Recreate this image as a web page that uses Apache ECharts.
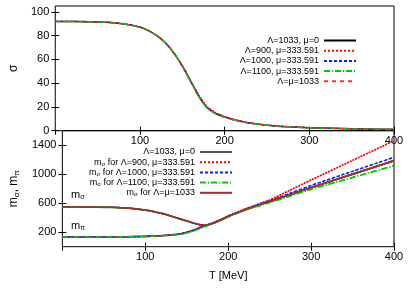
<!DOCTYPE html>
<html><head><meta charset="utf-8">
<script src="https://cdn.jsdelivr.net/npm/echarts@6/dist/echarts.min.js"></script>
<style>html,body{margin:0;padding:0;background:#fff}#c{width:415px;height:291px}</style>
</head><body><div id="c"></div>
<script>
// ---- data ----
const T = [0,20,40,60,80,100,110,120,130,140,150,160,170,175,180,190,200,210,225,250,275,300,350,400];

// top panel: sigma(T)
const sigma_1033_mu0   = [92,92,91.8,91.3,90,87.2,84.3,80,74,65.5,54.5,41.5,28.5,23.2,19,14.2,11.5,9.4,7.0,4.6,3.3,2.5,1.6,1.0];
const sigma_900        = [92,92,91.8,91.3,90,87.2,84.3,80,74,65.6,54.8,42,29.5,24.3,20,15,12,9.8,7.3,4.8,3.4,2.6,1.7,1.1];
const sigma_1000       = [92,92,91.8,91.3,90,87.2,84.3,80,74,65.5,54.6,41.7,28.8,23.5,19.4,14.5,11.7,9.5,7.1,4.7,3.3,2.5,1.6,1.0];
const sigma_1100       = [92,92,91.8,91.3,90,87.2,84.3,80,74,65.4,54.3,41,28,22.7,18.6,13.9,11.3,9.2,6.9,4.5,3.2,2.4,1.5,0.9];
const sigma_1033_1033  = [92,92,91.8,91.3,90,87.2,84.3,80,74,65.5,54.5,41.5,28.5,23.2,19,14.2,11.5,9.4,7.0,4.6,3.3,2.5,1.6,1.0];

// bottom panel: m_sigma(T)
const msig_1033_mu0  = [548,548,547,543,532,505,485,458,425,390,355,320,296,298,318,365,418,465,530,624,718,815,1000,1186];
const msig_900       = [548,548,547,543,532,505,485,458,425,390,355,320,297,300,322,370,424,472,540,645,782,920,1190,1462];
const msig_1000      = [548,548,547,543,532,505,485,458,425,390,355,320,296,298,318,366,420,468,533,632,738,845,1040,1233];
const msig_1100      = [548,548,547,543,532,505,485,458,425,390,355,319,295,296,315,360,412,458,522,608,700,792,955,1117];
const msig_1033_1033 = [548,548,547,543,532,505,485,458,425,390,355,320,296,298,318,365,418,465,530,624,718,815,1000,1186];

// bottom panel: m_pi(T)
const mpi_1033_mu0  = [135,135,135,135,137,142,146,152,160,172,195,232,280,300,316,363,417,465,530,624,718,815,1000,1186];
const mpi_900       = [135,135,135,136,138,144,148,155,164,178,203,242,288,306,322,369,423,471,540,645,782,920,1190,1462];
const mpi_1000      = [135,135,135,135,137,142,146,152,161,174,198,236,283,302,318,365,419,467,533,632,738,845,1040,1233];
const mpi_1100      = [135,135,135,135,137,141,145,150,157,168,188,222,268,290,310,358,411,457,522,608,700,792,955,1117];
const mpi_1033_1033 = [135,135,135,135,137,142,146,152,160,172,195,232,280,300,316,363,417,465,530,624,718,815,1000,1186];

// labels
const topNames = ['Λ=1033, μ=0','Λ=900, μ=333.591','Λ=1000, μ=333.591','Λ=1100, μ=333.591','Λ=μ=1033'];
const botKeys = ['b0','b1','b2','b3','b4'];
const botLabels = {
  b0:'Λ=1033, μ=0',
  b1:'{m|m}{s|σ}{t| for Λ=900, μ=333.591}',
  b2:'{m|m}{s|σ}{t| for Λ=1000, μ=333.591}',
  b3:'{m|m}{s|σ}{t| for Λ=1100, μ=333.591}',
  b4:'{m|m}{s|σ}{t| for Λ=μ=1033}'
};
const yTopTicks = [0,20,40,60,80,100];
const yBotTicks = [200,600,1000,1400];

// ---- chart ----
const FF = "'Liberation Sans', Arial, sans-serif";
const pair = a => T.map((t,i)=>[t,a[i]]);
const chart = echarts.init(document.getElementById('c'), null, {renderer:'canvas'});

function xAx(grid, pos, labels, extra){
  return Object.assign({
    gridIndex:grid, type:'value', min:0, max:400, interval:100, position:pos,
    axisLine:{show:false}, splitLine:{show:false},
    axisTick:{show:true, inside:true, length:4, lineStyle:{color:'#000', width:1}},
    axisLabel:{show:labels, showMinLabel:false, margin:5, color:'#000', fontSize:11, fontFamily:FF, formatter:v=>String(v)}
  }, extra||{});
}
function yAx(grid, pos, labels, min, max, ticks, extra){
  return Object.assign({
    gridIndex:grid, type:'value', min:min, max:max, position:pos,
    axisLine:{show:false}, splitLine:{show:false},
    axisTick:{show:true, inside:true, length:4, customValues:ticks, lineStyle:{color:'#000', width:1}},
    axisLabel:{show:labels, customValues:ticks, margin:6, color:'#000', fontSize:11, fontFamily:FF, formatter:v=>String(v)}
  }, extra||{});
}
const subRich = {
  m:{fontSize:12, fontFamily:FF, color:'#000'},
  s:{fontSize:8, fontFamily:FF, color:'#000', padding:[6,0,0,0]},
  c:{fontSize:12, fontFamily:FF, color:'#000'}
};

function ser(name, xi, yi, data, color, type, width, z){
  return {name:name, type:'line', xAxisIndex:xi, yAxisIndex:yi, data:pair(data),
    showSymbol:false, symbol:'none', smooth:0.25, z:z||2,
    lineStyle:{color:color, type:type, width:width}, itemStyle:{color:color}};
}

const C = {black:'#000', red:'#ff0000', blue:'#1a1aff', green:'#00cc00', lred:'#ff3030', gray:'#555555', brown:'#a03030'};
const dashDot = [6,2,1,2];
const legItem = {opacity:0, color:'transparent', borderWidth:0};

const option = {
  animation:false,
  backgroundColor:'#fff',
  grid:[
    {left:50, right:21, top:6, height:124.7, show:true, borderColor:'#000', borderWidth:1},
    {left:50, right:21, top:130.7, height:116, show:true, borderColor:'#000', borderWidth:1}
  ],
  xAxis:[
    xAx(0,'bottom',true),
    xAx(0,'top',false),
    xAx(1,'bottom',true,{name:'T [MeV]', nameLocation:'middle', nameGap:24,
      nameTextStyle:{fontSize:11, fontFamily:FF, color:'#000'}}),
    xAx(1,'top',false)
  ],
  yAxis:[
    yAx(0,'left',true,0,105,yTopTicks,{name:'σ', nameLocation:'middle', nameGap:30, nameRotate:90,
      nameTextStyle:{fontSize:12, fontFamily:FF, color:'#000'}}),
    yAx(0,'right',false,0,105,yTopTicks),
    yAx(1,'left',true,0,1600,yBotTicks,{name:'{m|m}{s|σ}{c|, m}{s|π}', nameLocation:'middle', nameGap:30, nameRotate:90,
      nameTextStyle:{fontSize:12, fontFamily:FF, color:'#000', rich:subRich}}),
    yAx(1,'right',false,0,1600,yBotTicks)
  ],
  legend:[
    {data:topNames, orient:'vertical', right:58, top:35.5, align:'right', padding:0,
      itemWidth:32, itemHeight:10, itemGap:0.2, itemStyle:legItem,
      textStyle:{fontSize:9, fontFamily:FF, color:'#000', lineHeight:10}},
    {data:botKeys, orient:'vertical', right:182, top:147, align:'right', padding:0,
      itemWidth:32, itemHeight:10, itemGap:0.2, itemStyle:legItem,
      formatter: n => botLabels[n],
      textStyle:{fontSize:9, fontFamily:FF, color:'#000', lineHeight:10,
        rich:{m:{fontSize:9,fontFamily:FF,color:'#000'}, s:{fontSize:6,fontFamily:FF,color:'#000',padding:[4,0,0,0]}, t:{fontSize:9,fontFamily:FF,color:'#000'}}}}
  ],
  graphic:[
    {type:'text', left:71, top:189, style:{text:'{m|m}{s|σ}', rich:{m:{fontSize:11,fontFamily:FF,fill:'#000'}, s:{fontSize:7,fontFamily:FF,fill:'#000',padding:[5,0,0,0]}}}},
    {type:'text', left:71, top:220, style:{text:'{m|m}{s|π}', rich:{m:{fontSize:11,fontFamily:FF,fill:'#000'}, s:{fontSize:7,fontFamily:FF,fill:'#000',padding:[5,0,0,0]}}}}
  ],
  series:[
    ser(topNames[0],0,0,sigma_1033_mu0,C.black,'solid',1.5),
    ser(topNames[1],0,0,sigma_900,C.red,'dotted',1.5),
    ser(topNames[2],0,0,sigma_1000,C.blue,[3,2],1.2),
    ser(topNames[3],0,0,sigma_1100,C.green,dashDot,1.5),
    ser(topNames[4],0,0,sigma_1033_1033,C.lred,[4,4],1),

    ser('b0',2,2,msig_1033_mu0,C.gray,'solid',1.8),
    ser('b0',2,2,mpi_1033_mu0,C.gray,'solid',1.8),
    ser('b4',2,2,mpi_1033_1033,C.brown,'solid',1.5),
    ser('b1',2,2,msig_900,C.red,'dotted',1.5),
    ser('b1',2,2,mpi_900,C.red,'dotted',1.5),
    ser('b2',2,2,msig_1000,C.blue,[3,2],1.3),
    ser('b2',2,2,mpi_1000,C.blue,[3,2],1.3),
    ser('b3',2,2,msig_1100,C.green,dashDot,1.5),
    ser('b3',2,2,mpi_1100,C.green,dashDot,1.5),
    ser('b4',2,2,msig_1033_1033,C.brown,'solid',1.5,3)
  ]
};
chart.setOption(option);
</script>
</body></html>
